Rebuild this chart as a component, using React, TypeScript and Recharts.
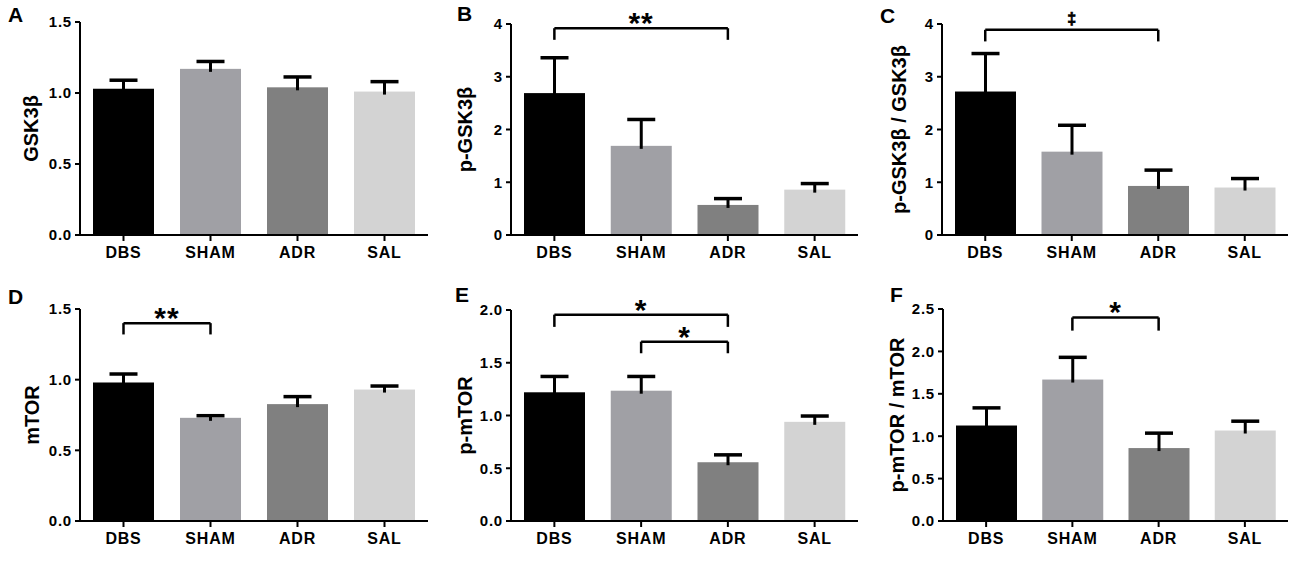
import React from 'react';
import { BarChart, Bar, XAxis, YAxis, ReferenceLine } from 'recharts';

const groups = ['DBS', 'SHAM', 'ADR', 'SAL'];
const barColors = ['#000000', '#a0a0a5', '#808080', '#d3d3d3'];

// mean and upper SEM per group
const gsk3bMean = [1.03, 1.17, 1.04, 1.01];
const gsk3bSem = [0.06, 0.052, 0.073, 0.07];
const pGsk3bMean = [2.69, 1.69, 0.57, 0.86];
const pGsk3bSem = [0.67, 0.5, 0.12, 0.115];
const gskRatioMean = [2.72, 1.58, 0.93, 0.9];
const gskRatioSem = [0.72, 0.5, 0.3, 0.17];
const mtorMean = [0.98, 0.73, 0.827, 0.93];
const mtorSem = [0.06, 0.015, 0.053, 0.025];
const pMtorMean = [1.22, 1.235, 0.557, 0.94];
const pMtorSem = [0.15, 0.135, 0.07, 0.055];
const mtorRatioMean = [1.126, 1.668, 0.86, 1.067];
const mtorRatioSem = [0.208, 0.262, 0.176, 0.11];

const ticks15 = [0, 0.5, 1.0, 1.5];
const ticks4 = [0, 1, 2, 3, 4];
const ticks20 = [0, 0.5, 1.0, 1.5, 2.0];
const ticks25 = [0, 0.5, 1.0, 1.5, 2.0, 2.5];

// significance brackets
const bracketsA: any[] = [];
const bracketsB = [{ from: 'DBS', to: 'ADR', y: 3.92, leg: 3.7, mark: '**' }];
const bracketsC = [{ from: 'DBS', to: 'ADR', y: 3.89, leg: 3.67, mark: '‡' }];
const bracketsD = [{ from: 'DBS', to: 'SHAM', y: 1.4, leg: 1.32, mark: '**' }];
const bracketsE = [
  { from: 'DBS', to: 'ADR', y: 1.956, leg: 1.84, mark: '*' },
  { from: 'SHAM', to: 'ADR', y: 1.7, leg: 1.59, mark: '*' },
];
const bracketsF = [{ from: 'SHAM', to: 'ADR', y: 2.4, leg: 2.245, mark: '*' }];

const FONT = '"Liberation Sans", Arial, Helvetica, sans-serif';

const toRows = (mean: number[], sem: number[]) =>
  groups.map((g, i) => ({ group: g, mean: mean[i], sem: sem[i] }));

const panels = [
  { letter: 'A', title: 'GSK3β', rows: toRows(gsk3bMean, gsk3bSem), ticks: ticks15, dec: 1, brackets: bracketsA,
    left: 0, top: 0, h: 284, yw: 80, mt: 22, mb: 19, labelX: 31, lx: 8, ly: 4 },
  { letter: 'B', title: 'p-GSK3β', rows: toRows(pGsk3bMean, pGsk3bSem), ticks: ticks4, dec: 0, brackets: bracketsB,
    left: 430, top: 0, h: 284, yw: 81, mt: 24, mb: 19, labelX: 35, lx: 27, ly: 3 },
  { letter: 'C', title: 'p-GSK3β / GSK3β', rows: toRows(gskRatioMean, gskRatioSem), ticks: ticks4, dec: 0, brackets: bracketsC,
    left: 860, top: 0, h: 284, yw: 82, mt: 24, mb: 19, labelX: 39, lx: 20, ly: 5 },
  { letter: 'D', title: 'mTOR', rows: toRows(mtorMean, mtorSem), ticks: ticks15, dec: 1, brackets: bracketsD,
    left: 0, top: 284, h: 285, yw: 80, mt: 25, mb: 18, labelX: 32, lx: 8, ly: 2 },
  { letter: 'E', title: 'p-mTOR', rows: toRows(pMtorMean, pMtorSem), ticks: ticks20, dec: 1, brackets: bracketsE,
    left: 430, top: 284, h: 285, yw: 81, mt: 26, mb: 18, labelX: 35, lx: 25, ly: 0 },
  { letter: 'F', title: 'p-mTOR / mTOR', rows: toRows(mtorRatioMean, mtorRatioSem), ticks: ticks25, dec: 1, brackets: bracketsF,
    left: 860, top: 284, h: 285, yw: 83, mt: 25, mb: 18, labelX: 37, lx: 30, ly: 0 },
];

// bar plus upper-only error bar, scaled from the bar's own pixel height
const BarWithSem = (props: any) => {
  const { x, y, width, height, payload } = props;
  const perUnit = payload.mean > 0 ? height / payload.mean : 0;
  const capY = y - payload.sem * perUnit;
  const cx = x + width / 2;
  const fill = barColors[groups.indexOf(payload.group)];
  return (
    <g>
      <rect x={x} y={y} width={width} height={height} fill={fill} />
      <line x1={cx} x2={cx} y1={y + 3} y2={capY} stroke="#000" strokeWidth={3} />
      <line x1={cx - 14} x2={cx + 14} y1={capY} y2={capY} stroke="#000" strokeWidth={3.5} />
    </g>
  );
};

const markLabel = (mark: string) => (props: any) => {
  const vb = props.viewBox || {};
  const isDagger = mark === '‡';
  return (
    <text
      x={vb.x + vb.width / 2}
      y={vb.y + (isDagger ? -6 : 5)}
      textAnchor="middle"
      fontFamily={FONT}
      fontWeight={700}
      fontSize={isDagger ? 16 : 30}
      letterSpacing={isDagger ? 0 : 1}
      fill="#000"
      stroke={isDagger ? '#000' : 'none'}
      strokeWidth={0.7}
    >
      {mark}
    </text>
  );
};

const yLabel = (text: string, cx: number) => (props: any) => {
  const vb = props.viewBox || { x: 0, y: 0, height: 0 };
  const cy = vb.y + vb.height / 2;
  return (
    <text
      x={cx}
      y={cy}
      transform={`rotate(-90, ${cx}, ${cy})`}
      textAnchor="middle"
      dominantBaseline="central"
      fontFamily={FONT}
      fontWeight={700}
      fontSize={20}
      fill="#000"
    >
      {text}
    </text>
  );
};

const Panel = ({ p }: { p: any }) => {
  const axisStyle = { stroke: '#000', strokeWidth: 2 };
  const max = p.ticks[p.ticks.length - 1];
  return (
    <div style={{ position: 'absolute', left: p.left, top: p.top, width: 430, height: p.h }}>
      <div style={{ position: 'absolute', left: p.lx, top: p.ly, fontFamily: FONT, fontWeight: 700, fontSize: 21, lineHeight: '21px' }}>
        {p.letter}
      </div>
      <BarChart width={430} height={p.h} data={p.rows} margin={{ top: p.mt, right: 2, bottom: p.mb, left: 0 }} barSize={61}>
        <XAxis
          dataKey="group"
          height={30}
          axisLine={axisStyle}
          tickLine={axisStyle}
          tickSize={6}
          tickMargin={6}
          tick={{ fill: '#000', fontSize: 16, fontWeight: 700, fontFamily: FONT, letterSpacing: 0.8 }}
        />
        <YAxis
          type="number"
          domain={[0, max]}
          ticks={p.ticks}
          interval={0}
          width={p.yw}
          axisLine={axisStyle}
          tickLine={axisStyle}
          tickSize={5}
          tickMargin={3}
          tickFormatter={(v: number) => v.toFixed(p.dec)}
          tick={{ fill: '#000', fontSize: 15, fontWeight: 700, fontFamily: FONT, letterSpacing: 0.8 }}
          label={yLabel(p.title, p.labelX)}
        />
        <Bar dataKey="mean" shape={BarWithSem} isAnimationActive={false} />
        {p.brackets.map((b: any, i: number) => (
          <React.Fragment key={i}>
            <ReferenceLine
              segment={[{ x: b.from, y: b.y }, { x: b.to, y: b.y }]}
              stroke="#000"
              strokeWidth={2.5}
              label={markLabel(b.mark)}
            />
            <ReferenceLine segment={[{ x: b.from, y: b.y }, { x: b.from, y: b.leg }]} stroke="#000" strokeWidth={2.5} />
            <ReferenceLine segment={[{ x: b.to, y: b.y }, { x: b.to, y: b.leg }]} stroke="#000" strokeWidth={2.5} />
          </React.Fragment>
        ))}
      </BarChart>
    </div>
  );
};

export default function App() {
  return (
    <div style={{ position: 'absolute', left: 0, top: 0, width: 1300, height: 569, background: '#fff', overflow: 'hidden' }}>
      {panels.map((p) => (
        <Panel key={p.letter} p={p} />
      ))}
    </div>
  );
}
